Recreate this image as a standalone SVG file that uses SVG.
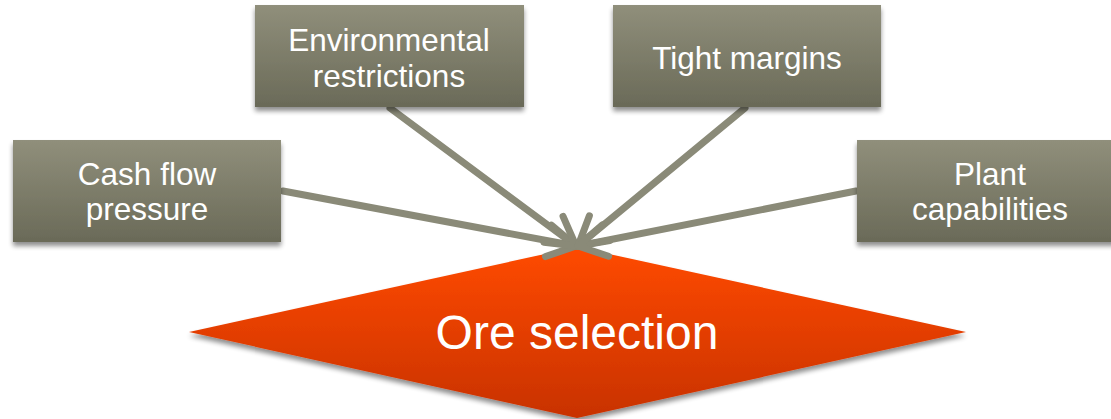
<svg xmlns="http://www.w3.org/2000/svg" width="1111" height="419" viewBox="0 0 1111 419">
<defs>
<linearGradient id="boxg" x1="0" y1="0" x2="0" y2="1">
<stop offset="0" stop-color="#908f7b"/>
<stop offset="1" stop-color="#6a6a58"/>
</linearGradient>
<linearGradient id="diag" x1="0" y1="0" x2="0" y2="1">
<stop offset="0" stop-color="#ff4a00"/>
<stop offset="1" stop-color="#c83200"/>
</linearGradient>
<filter id="sh" x="-10%" y="-10%" width="120%" height="130%">
<feGaussianBlur in="SourceAlpha" stdDeviation="2.5"/>
<feOffset dx="0" dy="4" result="b"/>
<feComponentTransfer><feFuncA type="linear" slope="0.45"/></feComponentTransfer>
<feMerge><feMergeNode/><feMergeNode in="SourceGraphic"/></feMerge>
</filter>
<marker id="arr" markerUnits="userSpaceOnUse" markerWidth="50" markerHeight="50" refX="40" refY="25" orient="auto" viewBox="0 0 50 50">
<path d="M12,9 L40,25 L12,41" fill="none" stroke="#8a8a78" stroke-width="7" stroke-linecap="round" stroke-linejoin="round"/>
</marker>
</defs>
<style>
.box{fill:url(#boxg);filter:url(#sh)}
.t{font-family:"Liberation Sans",Arial,sans-serif;font-size:31.5px;fill:#ffffff;text-anchor:middle}
.big{font-family:"Liberation Sans",Arial,sans-serif;font-size:48px;fill:#ffffff;text-anchor:middle}
.c{stroke:#8a8a78;stroke-width:7;fill:none;stroke-linecap:round;marker-end:url(#arr)}
</style>
<g id="ore-selection">
<polygon points="577,247 966,332 577,418 189,332" fill="url(#diag)" filter="url(#sh)"/>
<text class="big" x="577" y="349">Ore selection</text>
</g>
<g id="connectors">
<line class="c" x1="283" y1="191" x2="576" y2="246"/>
<line class="c" x1="390" y1="108" x2="576" y2="246"/>
<line class="c" x1="745" y1="108" x2="578" y2="246"/>
<line class="c" x1="856" y1="191" x2="578" y2="246"/>
</g>
<g id="cash-flow-pressure">
<rect class="box" x="13" y="140" width="268" height="102"/>
<text class="t" x="147" y="185">Cash flow</text>
<text class="t" x="147" y="220">pressure</text>
</g>
<g id="environmental-restrictions">
<rect class="box" x="255" y="5" width="269" height="102"/>
<text class="t" x="389" y="51">Environmental</text>
<text class="t" x="389" y="87">restrictions</text>
</g>
<g id="tight-margins">
<rect class="box" x="613" y="5" width="268" height="102"/>
<text class="t" x="747" y="69">Tight margins</text>
</g>
<g id="plant-capabilities">
<rect class="box" x="857" y="140" width="262" height="102"/>
<text class="t" x="990" y="185">Plant</text>
<text class="t" x="990" y="220">capabilities</text>
</g>
</svg>
